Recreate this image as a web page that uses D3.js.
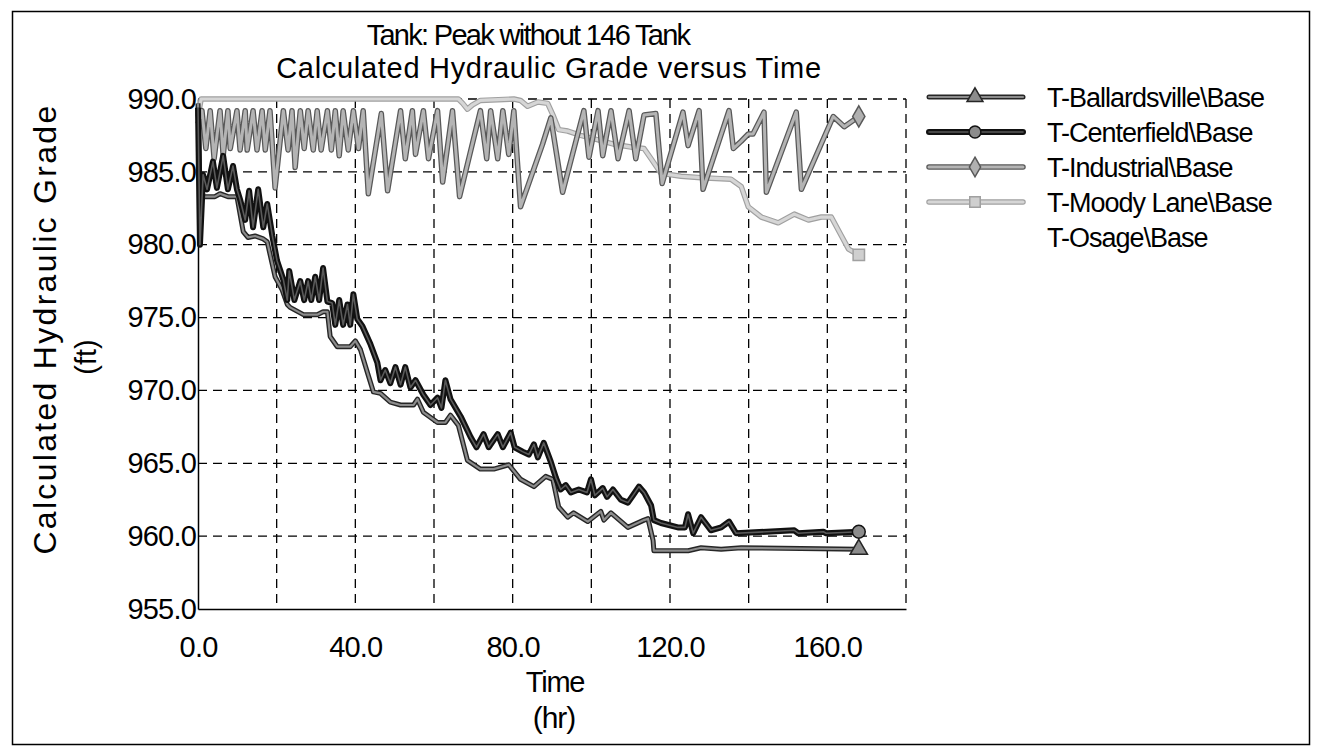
<!DOCTYPE html>
<html>
<head>
<meta charset="utf-8">
<script src="https://cdn.jsdelivr.net/npm/d3@7/dist/d3.min.js"></script>
<style>
  body { margin: 0; background: #fff; }
  svg { display: block; }
  text { font-family: "Liberation Sans", Arial, sans-serif; fill: #000; }
</style>
</head>
<body>
<script>
// chart values: [time (hr), hydraulic grade (ft)]
const titleLines = ['Tank: Peak without 146 Tank', 'Calculated Hydraulic Grade versus Time'];
const seriesNames = ['T-Ballardsville\\Base', 'T-Centerfield\\Base', 'T-Industrial\\Base', 'T-Moody Lane\\Base', 'T-Osage\\Base'];
const yTicks = [955, 960, 965, 970, 975, 980, 985, 990];
const xLabelTicks = [0, 40, 80, 120, 160];
const xGridTicks = [20, 40, 60, 80, 100, 120, 140, 160, 180];

const ballardsville = [
  [0, 989.7], [0.5, 983.8], [1.3, 983.3], [4.3, 983.3], [5.6, 983.5], [7.6, 983.3], [9.9, 983.3],
  [11.5, 980.9], [12.7, 980.5], [14.5, 980.6], [16.6, 980.4], [17.6, 980.2], [19.6, 977.8],
  [21.4, 976.9], [22.7, 975.9], [23.4, 975.7], [26.8, 975.2], [30.3, 975.2], [31.8, 975.4],
  [32.9, 975.4], [33.6, 973.7], [35.4, 973.0], [38.7, 973.0], [40.0, 973.4], [41.3, 972.8],
  [43.1, 971.2], [44.6, 969.9], [46.4, 969.8], [48.9, 969.2], [51.5, 969.0], [54.8, 969.0],
  [55.8, 969.4], [57.3, 968.5], [60.9, 967.8], [62.9, 967.8], [64.2, 968.3], [66.2, 967.6],
  [68.5, 965.2], [71.8, 964.6], [75.2, 964.6], [79.0, 964.9], [82.0, 963.9], [85.4, 963.4],
  [88.4, 964.1], [90.2, 963.9], [91.7, 962.0], [94.0, 961.3], [95.5, 961.6], [99.1, 961.0],
  [102.4, 961.7], [103.2, 961.1], [105.0, 961.6], [109.3, 960.6], [113.4, 961.1], [114.4, 961.2],
  [115.7, 959.7], [115.9, 959.0], [120.3, 959.0], [124.6, 959.0], [127.9, 959.2], [133.0, 959.1],
  [138.1, 959.2], [168, 959.1]
];

const centerfield = [
  [0, 989.4], [0.5, 980.0], [1.3, 984.8], [2.3, 983.8], [3.8, 985.7], [4.8, 983.9], [6.4, 986.1],
  [7.6, 983.8], [8.9, 985.4], [9.9, 983.8], [10.7, 983.1], [12.0, 981.7], [13.0, 983.7],
  [14.0, 981.2], [15.3, 983.8], [16.6, 981.2], [17.6, 982.8], [18.9, 980.6], [20.1, 978.9],
  [21.7, 977.6], [22.7, 976.2], [23.2, 978.2], [24.5, 976.2], [26.0, 977.5], [27.0, 976.2],
  [28.0, 977.5], [28.8, 976.2], [29.8, 977.8], [30.8, 976.2], [31.8, 978.4], [32.9, 976.1],
  [34.1, 976.0], [34.9, 974.5], [35.9, 976.2], [36.9, 974.5], [38.0, 975.9], [38.7, 974.5],
  [39.5, 976.6], [40.5, 974.9], [41.8, 974.4], [43.8, 973.2], [45.6, 971.9], [46.4, 970.7],
  [47.6, 971.4], [48.9, 970.5], [50.2, 971.6], [51.5, 970.4], [52.7, 971.6], [54.0, 970.2],
  [55.3, 970.7], [57.3, 969.7], [59.1, 969.0], [60.9, 969.5], [61.9, 968.8], [62.9, 970.7],
  [64.2, 969.4], [66.8, 968.2], [69.3, 966.8], [70.8, 966.1], [72.6, 967.0], [73.9, 966.1],
  [76.2, 967.0], [77.5, 966.1], [79.5, 967.1], [80.5, 966.1], [82.5, 965.8], [84.1, 965.6],
  [85.4, 966.3], [86.4, 965.4], [87.9, 966.4], [89.7, 965.1], [91.0, 964.0], [92.2, 963.2],
  [93.5, 963.5], [94.8, 963.0], [96.8, 963.2], [98.9, 963.0], [99.9, 963.9], [100.9, 962.8],
  [102.9, 963.3], [104.0, 962.7], [105.5, 963.2], [107.5, 962.5], [109.3, 962.3], [110.6, 962.8],
  [112.1, 963.4], [113.4, 963.0], [115.2, 962.1], [115.9, 961.1], [117.7, 960.9], [122.0, 960.6],
  [123.8, 960.6], [124.6, 961.5], [125.9, 960.2], [127.9, 961.3], [130.4, 960.4], [133.0, 960.6],
  [135.0, 961.0], [136.8, 960.2], [151.6, 960.4], [152.6, 960.2], [159.0, 960.3], [159.7, 960.2],
  [168, 960.3]
];

const industrial = [
  [0, 988.3], [1.0, 989.2], [2.0, 986.6], [3.1, 989.2], [4.1, 985.9], [5.6, 989.2], [6.4, 986.1],
  [7.6, 989.2], [8.2, 986.6], [9.9, 989.2], [10.7, 986.5], [12.0, 989.2], [12.5, 986.5],
  [14.0, 989.2], [15.0, 986.5], [16.3, 989.2], [17.1, 986.5], [18.3, 989.2], [19.6, 983.9],
  [21.7, 989.2], [22.9, 986.5], [23.9, 989.2], [24.7, 985.3], [26.0, 989.2], [27.0, 986.6],
  [28.0, 989.2], [29.3, 986.5], [30.3, 989.2], [31.3, 986.5], [32.9, 989.2], [33.9, 986.5],
  [34.9, 989.2], [35.9, 986.1], [36.9, 989.2], [38.2, 986.5], [39.5, 989.2], [40.8, 986.6],
  [42.0, 989.2], [43.3, 983.5], [46.6, 989.0], [48.2, 983.7], [51.5, 989.2], [52.7, 985.9],
  [54.5, 989.2], [55.3, 986.2], [57.3, 989.2], [58.6, 985.9], [60.9, 989.2], [62.2, 984.3],
  [64.7, 989.2], [66.5, 983.3], [71.8, 989.2], [73.4, 985.9], [74.4, 989.2], [76.2, 985.9],
  [77.5, 989.2], [79.0, 986.2], [80.3, 989.2], [82.0, 982.6], [87.6, 986.9], [89.7, 988.7],
  [92.7, 983.6], [98.1, 989.2], [99.4, 986.0], [101.7, 989.2], [102.9, 986.1], [105.0, 989.2],
  [106.8, 985.9], [109.6, 989.2], [111.3, 985.9], [113.4, 988.9], [116.4, 989.0], [118.0, 984.2],
  [123.3, 989.1], [124.6, 986.8], [127.4, 989.2], [128.4, 983.8], [135.0, 989.2], [136.1, 986.6],
  [138.1, 987.1], [139.9, 987.6], [141.1, 987.6], [143.9, 989.1], [144.5, 983.6], [152.1, 989.1],
  [153.4, 983.8], [161.5, 988.8], [164.3, 988.1], [168, 988.8]
];

const moodyLane = [
  [0, 988.8], [0.8, 990.0], [66.2, 990.0], [67.3, 989.7], [68.5, 989.3], [69.8, 989.6],
  [71.8, 989.9], [80.3, 990.0], [82.0, 989.9], [83.8, 989.5], [86.4, 989.8], [88.9, 989.7],
  [90.4, 988.8], [91.7, 987.9], [94.0, 987.8], [97.3, 987.5], [101.7, 987.2], [105.7, 986.9],
  [110.1, 986.7], [113.4, 986.6], [115.2, 985.9], [117.7, 984.9], [122.8, 984.7], [127.9, 984.6],
  [135.5, 984.5], [138.1, 984.0], [139.9, 982.6], [143.2, 981.9], [147.5, 981.5], [151.6, 982.1],
  [155.2, 981.7], [158.5, 981.9], [161.0, 981.9], [163.6, 980.6], [165.4, 979.7], [168, 979.3]
];

const osage = [];

const seriesData = [ballardsville, centerfield, industrial, moodyLane, osage];

// look of each series (outlined thick strokes like the original printout)
const styles = [
  { outer: '#262626', ow: 5, inner: '#8c8c8c', iw: 2.2, symbol: d3.symbolTriangle, mfill: '#8c8c8c' },
  { outer: '#111', ow: 6, inner: '#5a5a5a', iw: 1.6, symbol: d3.symbolCircle, mfill: '#8c8c8c' },
  { outer: '#585858', ow: 5.5, inner: '#b4b4b4', iw: 3, symbol: d3.symbolDiamond, mfill: '#b0b0b0' },
  { outer: '#a0a0a0', ow: 5.5, inner: '#d6d6d6', iw: 3.2, symbol: d3.symbolSquare, mfill: '#cfcfcf' },
  null
];

const width = 1322;
const height = 753;
const plot = { left: 198, right: 906, top: 99, bottom: 609 };

const svg = d3.select('body')
  .append('svg')
  .attr('width', width)
  .attr('height', height);

// outer frame
svg.append('rect')
  .attr('x', 12.5).attr('y', 11.5)
  .attr('width', 1297).attr('height', 733)
  .attr('fill', 'none')
  .attr('stroke', '#000')
  .attr('stroke-width', 1.5);

const xScale = d3.scaleLinear().domain([0, 180]).range([plot.left, plot.right]);
const yScale = d3.scaleLinear().domain([955, 990]).range([plot.bottom, plot.top]);

// dashed grid
const grid = svg.append('g').attr('stroke', '#000').attr('stroke-width', 1.3).attr('stroke-dasharray', '9,6');
grid.selectAll('line.h')
  .data(yTicks.filter(d => d > 955))
  .enter()
  .append('line')
  .attr('class', 'h')
  .attr('x1', plot.left).attr('x2', plot.right)
  .attr('y1', d => yScale(d)).attr('y2', d => yScale(d));
grid.selectAll('line.v')
  .data(xGridTicks)
  .enter()
  .append('line')
  .attr('class', 'v')
  .attr('x1', d => xScale(d)).attr('x2', d => xScale(d))
  .attr('y1', plot.top).attr('y2', plot.bottom);

// axes
const yAxis = d3.axisLeft(yScale)
  .tickValues(yTicks)
  .tickSize(0)
  .tickPadding(2)
  .tickFormat(d3.format('.1f'));
const gy = svg.append('g')
  .attr('transform', 'translate(' + plot.left + ',0)')
  .call(yAxis);
gy.select('.domain').attr('stroke', '#000').attr('stroke-width', 1.5);
gy.selectAll('text')
  .style('font-size', '29px')
  .style('letter-spacing', '-0.8px')
  .attr('fill', '#000');

const xAxis = d3.axisBottom(xScale)
  .tickValues(xLabelTicks)
  .tickSize(0)
  .tickPadding(27)
  .tickFormat(d3.format('.1f'));
const gx = svg.append('g')
  .attr('transform', 'translate(0,' + plot.bottom + ')')
  .call(xAxis);
gx.select('.domain').attr('stroke', '#000').attr('stroke-width', 1.5);
gx.selectAll('text')
  .style('font-size', '29px')
  .style('letter-spacing', '-0.8px')
  .attr('fill', '#000');

// series lines
const line = d3.line()
  .x(d => xScale(d[0]))
  .y(d => yScale(d[1]));

const drawOrder = [3, 2, 0, 1];
drawOrder.forEach(i => {
  const st = styles[i];
  const data = seriesData[i];
  if (!st || data.length === 0) return;
  const g = svg.append('g').attr('class', 'series');
  g.append('path')
    .datum(data)
    .attr('d', line)
    .attr('fill', 'none')
    .attr('stroke', st.outer)
    .attr('stroke-width', st.ow)
    .attr('stroke-linejoin', 'round');
  g.append('path')
    .datum(data)
    .attr('d', line)
    .attr('fill', 'none')
    .attr('stroke', st.inner)
    .attr('stroke-width', st.iw)
    .attr('stroke-linejoin', 'round');
  const last = data[data.length - 1];
  g.append('path')
    .attr('d', d3.symbol().type(st.symbol).size(130)())
    .attr('transform', 'translate(' + xScale(last[0]) + ',' + yScale(last[1]) + ')')
    .attr('fill', st.mfill)
    .attr('stroke', st.outer)
    .attr('stroke-width', 1.5);
});

// titles
svg.selectAll('text.title')
  .data(titleLines)
  .enter()
  .append('text')
  .attr('class', 'title')
  .attr('x', (d, i) => i === 0 ? 528 : 549)
  .attr('y', (d, i) => 45 + i * 33)
  .attr('text-anchor', 'middle')
  .style('font-size', '29px')
  .style('letter-spacing', (d, i) => i === 0 ? '-1.7px' : '0.7px')
  .text(d => d);

// axis titles
svg.append('text')
  .attr('transform', 'translate(56,329) rotate(-90)')
  .attr('text-anchor', 'middle')
  .style('font-size', '32px')
  .style('letter-spacing', '2.3px')
  .text('Calculated Hydraulic Grade');
svg.append('text')
  .attr('transform', 'translate(96,357) rotate(-90)')
  .attr('text-anchor', 'middle')
  .style('font-size', '29px')
  .text('(ft)');

svg.append('text')
  .attr('x', 555).attr('y', 692)
  .attr('text-anchor', 'middle')
  .style('font-size', '29px')
  .style('letter-spacing', '-1.2px')
  .text('Time');
svg.append('text')
  .attr('x', 554).attr('y', 728)
  .attr('text-anchor', 'middle')
  .style('font-size', '30px')
  .style('letter-spacing', '-1px')
  .text('(hr)');

// legend
const legend = svg.append('g').attr('class', 'legend');
const rows = legend.selectAll('g.row')
  .data(seriesNames)
  .enter()
  .append('g')
  .attr('class', 'row')
  .attr('transform', (d, i) => 'translate(0,' + (97 + i * 35) + ')');

rows.each(function (name, i) {
  const st = styles[i];
  const row = d3.select(this);
  if (st) {
    row.append('line')
      .attr('x1', 929).attr('x2', 1023)
      .attr('stroke', st.outer).attr('stroke-width', st.ow)
      .attr('stroke-linecap', 'round');
    row.append('line')
      .attr('x1', 929).attr('x2', 1023)
      .attr('stroke', st.inner).attr('stroke-width', st.iw)
      .attr('stroke-linecap', 'round');
    row.append('path')
      .attr('d', d3.symbol().type(st.symbol).size(110)())
      .attr('transform', 'translate(975,0)')
      .attr('fill', st.mfill)
      .attr('stroke', st.outer)
      .attr('stroke-width', 1.5);
  }
  row.append('text')
    .attr('x', 1047)
    .attr('y', 10)
    .style('font-size', '27px')
    .style('letter-spacing', '-1px')
    .text(name);
});
</script>
</body>
</html>
